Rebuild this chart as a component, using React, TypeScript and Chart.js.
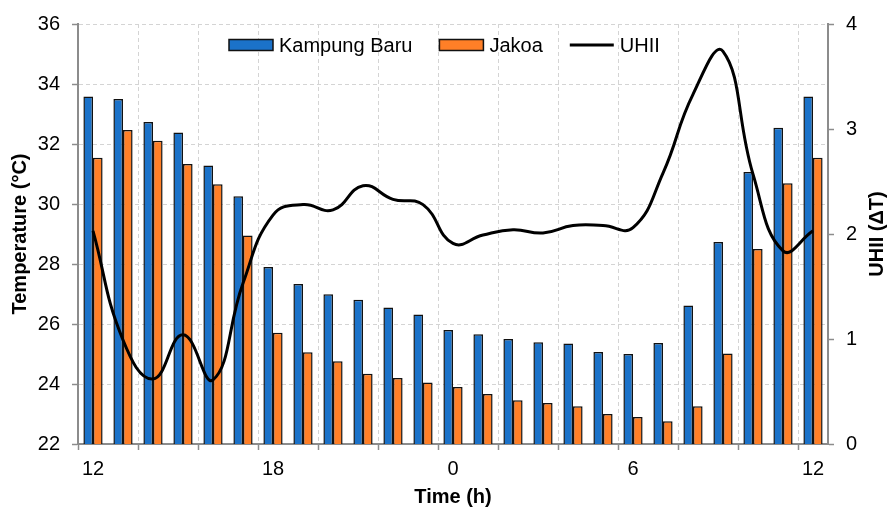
import React, { useEffect, useRef } from "react";
import { Chart, registerables } from "chart.js";

Chart.register(...registerables);

const hours = ["12","13","14","15","16","17","18","19","20","21","22","23","0","1","2","3","4","5","6","7","8","9","10","11","12"];
const kampungBaru = [33.58,33.5,32.73,32.38,31.28,30.26,27.9,27.33,26.99,26.81,26.55,26.32,25.8,25.66,25.5,25.39,25.35,25.07,25.0,25.37,26.62,28.73,31.07,32.54,33.58];
const jakoa = [31.54,32.47,32.11,31.33,30.66,28.95,25.71,25.06,24.76,24.34,24.2,24.05,23.9,23.67,23.46,23.37,23.26,23.0,22.9,22.76,23.26,25.02,28.5,30.69,31.54];
const uhii = [2.03,0.99,0.62,1.04,0.61,1.53,2.18,2.28,2.23,2.46,2.33,2.28,1.91,1.99,2.04,2.01,2.08,2.08,2.06,2.58,3.33,3.74,2.57,1.84,2.03];
const shownHourIndices = [0, 6, 12, 18, 24];
const seriesNames = ["Kampung Baru", "Jakoa", "UHII"];
const rightTitle = "UHII (ΔT)";

const BLUE = "#1b72c9";
const ORANGE = "#ff7f27";
const FONT = "'Liberation Sans', Arial, sans-serif";
const GRID = "#d4d4d4";
const AXIS = "#8c8c8c";

const legendPlugin = {
  id: "customLegend",
  afterDraw(chart: any) {
    const ctx = chart.ctx;
    ctx.save();
    ctx.font = `20px ${FONT}`;
    ctx.textBaseline = "middle";
    ctx.fillStyle = "#000";
    const cy = 45;
    let x = 229;
    const items = [
      { name: seriesNames[0], type: "box", color: BLUE },
      { name: seriesNames[1], type: "box", color: ORANGE },
      { name: seriesNames[2], type: "line", color: "#000" },
    ];
    for (const it of items) {
      if (it.type === "box") {
        ctx.fillStyle = it.color;
        ctx.fillRect(x, cy - 5.5, 44, 11);
        ctx.strokeStyle = "#111";
        ctx.lineWidth = 1.5;
        ctx.strokeRect(x, cy - 5.5, 44, 11);
      } else {
        ctx.strokeStyle = "#000";
        ctx.lineWidth = 3;
        ctx.beginPath();
        ctx.moveTo(x, cy);
        ctx.lineTo(x + 44, cy);
        ctx.stroke();
      }
      ctx.fillStyle = "#000";
      ctx.fillText(it.name, x + 50, cy + 1);
      x += 50 + ctx.measureText(it.name).width + 27;
    }
    // right axis title, reading bottom-to-top
    const area = chart.chartArea;
    ctx.save();
    ctx.translate(877, (area.top + area.bottom) / 2);
    ctx.rotate(-Math.PI / 2);
    ctx.font = `bold 20px ${FONT}`;
    ctx.textAlign = "center";
    ctx.textBaseline = "middle";
    ctx.fillStyle = "#000";
    ctx.fillText(rightTitle, 0, 0);
    ctx.restore();
    ctx.restore();
  },
};

export default function App() {
  const ref = useRef<HTMLCanvasElement>(null);
  useEffect(() => {
    const chart = new Chart(ref.current as HTMLCanvasElement, {
      type: "bar",
      data: {
        labels: hours,
        datasets: [
          {
            type: "bar",
            label: seriesNames[0],
            data: kampungBaru,
            backgroundColor: BLUE,
            borderColor: "#111",
            borderWidth: 1.5,
            yAxisID: "y",
            order: 1,
            categoryPercentage: 0.64,
            barPercentage: 1.0,
          },
          {
            type: "bar",
            label: seriesNames[1],
            data: jakoa,
            backgroundColor: ORANGE,
            borderColor: "#111",
            borderWidth: 1.5,
            yAxisID: "y",
            order: 1,
            categoryPercentage: 0.64,
            barPercentage: 1.0,
          },
          {
            type: "line",
            label: seriesNames[2],
            data: uhii,
            borderColor: "#000",
            borderWidth: 3,
            pointRadius: 0,
            tension: 0.45,
            fill: false,
            yAxisID: "y1",
            order: 0,
          } as any,
        ],
      },
      options: {
        responsive: false,
        animation: false,
        layout: { padding: { left: 0, right: 0, top: 23, bottom: 0 } },
        plugins: { legend: { display: false }, tooltip: { enabled: false } },
        scales: {
          x: {
            offset: true,
            grid: {
              offset: true,
              color: (c: any) => (typeof c.index === "number" && c.index % 2 === 0 ? GRID : "rgba(0,0,0,0)"),
              tickColor: (c: any) => (typeof c.index === "number" && c.index % 2 === 0 ? AXIS : "rgba(0,0,0,0)"),
              tickLength: 6,
              lineWidth: 1,
              tickWidth: 1.5,
            },
            border: { display: true, color: AXIS, width: 2, dash: [4, 3] },
            ticks: {
              autoSkip: false,
              maxRotation: 0,
              padding: 7,
              color: "#000",
              font: { family: FONT, size: 20 },
              callback: (_v: any, i: number) => (shownHourIndices.includes(i) ? hours[i] : ""),
            },
            title: {
              display: true,
              text: "Time (h)",
              color: "#000",
              font: { family: FONT, size: 20, weight: "bold" },
              padding: { top: 0, bottom: 1 },
            },
            afterFit: (s: any) => { s.height = 66; },
          },
          y: {
            position: "left",
            min: 22,
            max: 36,
            ticks: { stepSize: 2, padding: 12, color: "#000", font: { family: FONT, size: 20 } },
            grid: { color: GRID, tickColor: AXIS, tickLength: 6, lineWidth: 1, tickWidth: 1.5 },
            border: { display: true, color: AXIS, width: 2, dash: [4, 3] },
            title: {
              display: true,
              text: "Temperature (°C)",
              color: "#000",
              font: { family: FONT, size: 20, weight: "bold" },
              padding: { top: 8, bottom: 0 },
            },
            afterFit: (s: any) => { s.width = 78; },
          },
          y1: {
            position: "right",
            min: 0,
            max: 4,
            ticks: { stepSize: 1, padding: 12, color: "#000", font: { family: FONT, size: 20 } },
            grid: { drawOnChartArea: false, tickColor: AXIS, tickLength: 6, tickWidth: 1.5 },
            border: { display: true, color: AXIS, width: 2 },
            title: { display: false },
            afterFit: (s: any) => { s.width = 62; },
          },
        },
      },
      plugins: [legendPlugin],
    } as any);
    return () => chart.destroy();
  }, []);
  return (
    <div style={{ position: "fixed", left: 0, top: 0, width: 890, height: 510, background: "#fff" }}>
      <canvas ref={ref} width={890} height={510} style={{ width: 890, height: 510 }} />
    </div>
  );
}
